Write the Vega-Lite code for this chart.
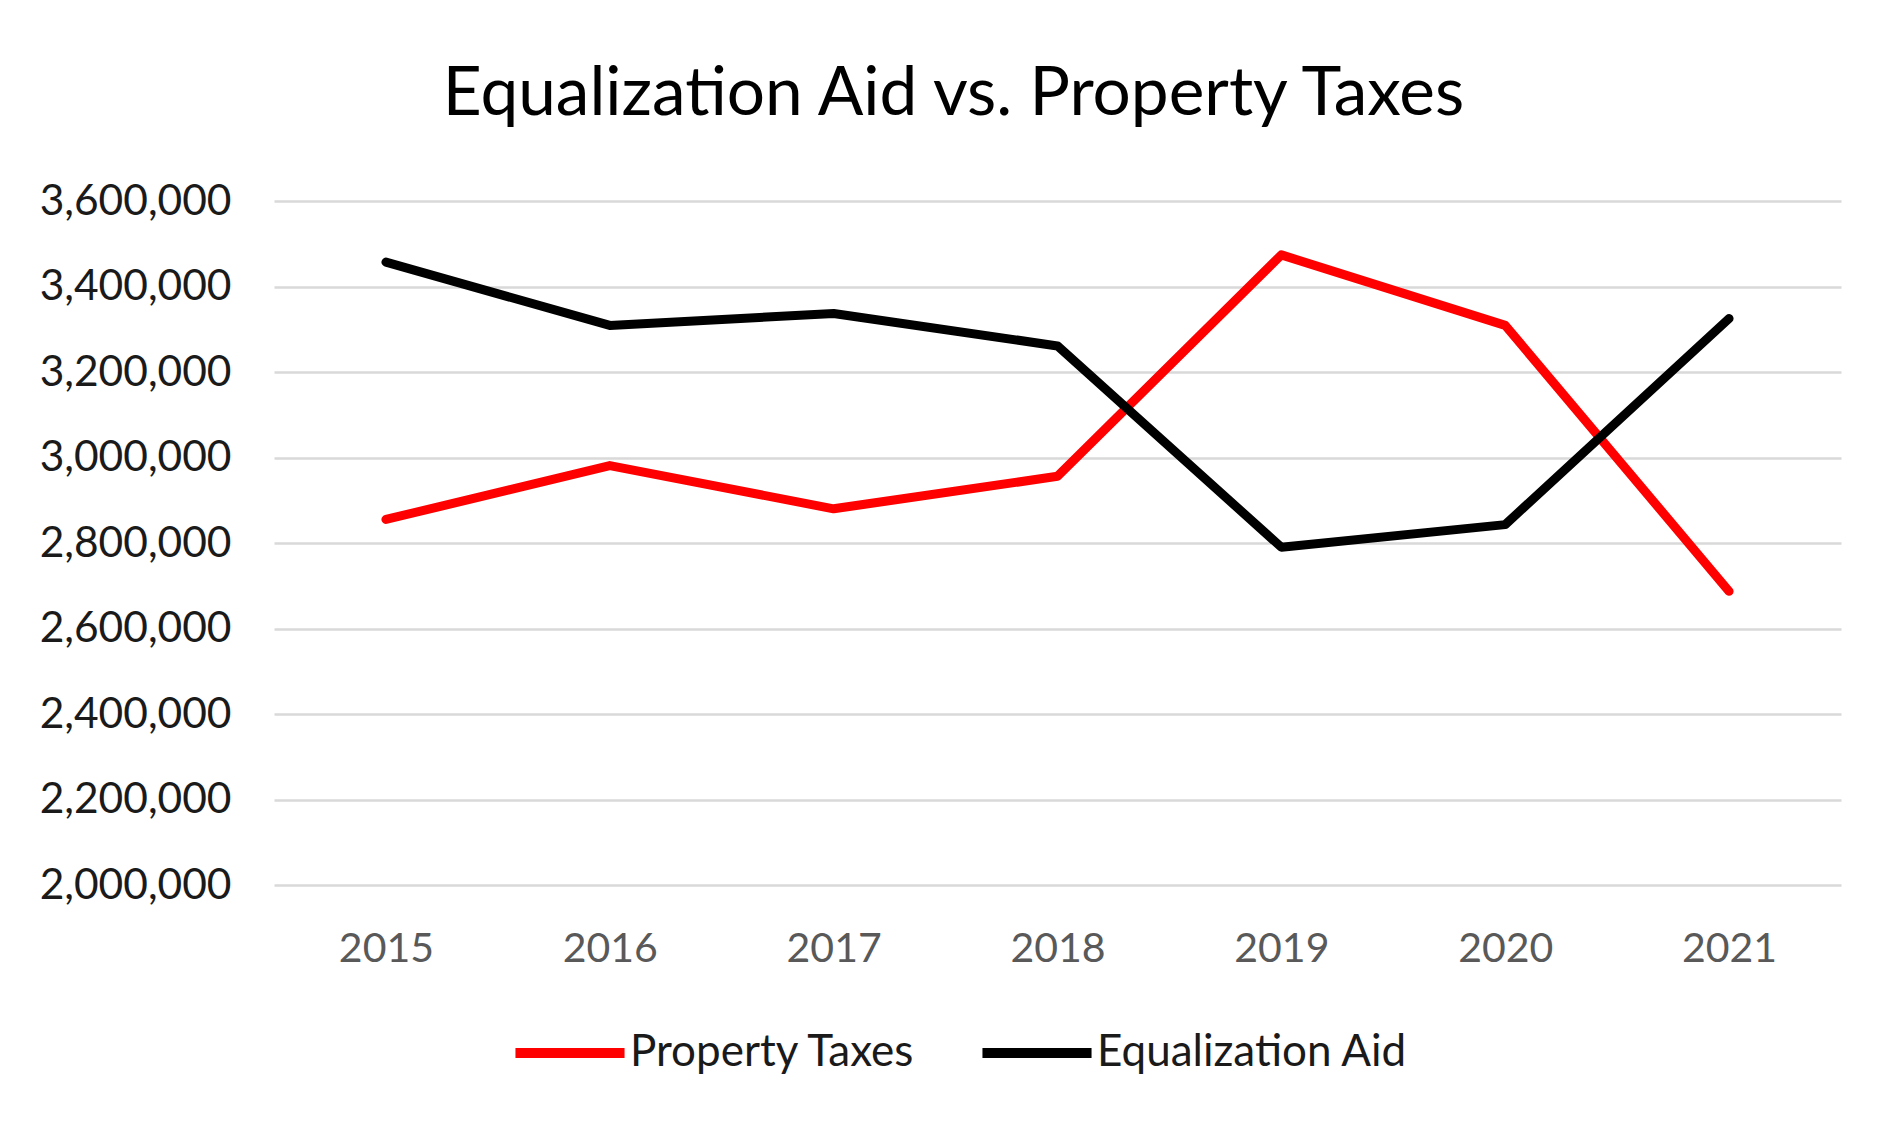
{
  "$schema": "https://vega.github.io/schema/vega-lite/v6.json",
  "autosize": {"type": "none"},
  "width": 1567,
  "height": 684,
  "padding": {"left": 274, "top": 201, "right": 38, "bottom": 236},
  "background": "white",
  "title": {
    "text": "Equalization Aid vs. Property Taxes",
    "font": "Lato",
    "fontSize": 67.5,
    "fontWeight": "normal",
    "color": "#000000",
    "anchor": "middle",
    "baseline": "alphabetic",
    "offset": -2,
    "dx": -104
  },
  "data": {
    "values": [
      {"year": "2015", "series": "Property Taxes", "value": 2855000},
      {"year": "2016", "series": "Property Taxes", "value": 2981000},
      {"year": "2017", "series": "Property Taxes", "value": 2880000},
      {"year": "2018", "series": "Property Taxes", "value": 2956000},
      {"year": "2019", "series": "Property Taxes", "value": 3474000},
      {"year": "2020", "series": "Property Taxes", "value": 3309000},
      {"year": "2021", "series": "Property Taxes", "value": 2687000},
      {"year": "2015", "series": "Equalization Aid", "value": 3457000},
      {"year": "2016", "series": "Equalization Aid", "value": 3309000},
      {"year": "2017", "series": "Equalization Aid", "value": 3337000},
      {"year": "2018", "series": "Equalization Aid", "value": 3261000},
      {"year": "2019", "series": "Equalization Aid", "value": 2790000},
      {"year": "2020", "series": "Equalization Aid", "value": 2843000},
      {"year": "2021", "series": "Equalization Aid", "value": 3325000}
    ]
  },
  "mark": {"type": "line", "strokeWidth": 9, "strokeCap": "round", "strokeJoin": "round"},
  "encoding": {
    "x": {
      "field": "year",
      "type": "ordinal",
      "scale": {"type": "point", "padding": 0.5},
      "axis": {
        "title": null,
        "labelAngle": 0,
        "domain": false,
        "ticks": false,
        "tickSize": 0,
        "grid": false,
        "labelFont": "Lato",
        "labelFontSize": 41,
        "labelColor": "#595959",
        "labelPadding": 44
      }
    },
    "y": {
      "field": "value",
      "type": "quantitative",
      "scale": {"domain": [2000000, 3600000], "nice": false, "zero": false},
      "axis": {
        "title": null,
        "values": [2000000, 2200000, 2400000, 2600000, 2800000, 3000000, 3200000, 3400000, 3600000],
        "format": ",d",
        "domain": false,
        "ticks": false,
        "tickSize": 0,
        "grid": true,
        "gridColor": "#d9d9d9",
        "gridWidth": 2.5,
        "labelFont": "Lato",
        "labelFontSize": 42.5,
        "labelColor": "#1a1a1a",
        "labelPadding": 43,
        "labelLimit": 500
      }
    },
    "color": {
      "field": "series",
      "type": "nominal",
      "scale": {"domain": ["Property Taxes", "Equalization Aid"], "range": ["#ff0000", "#000000"]},
      "legend": {
        "title": null,
        "orient": "none",
        "direction": "horizontal",
        "legendX": 236,
        "legendY": 792,
        "padding": 0,
        "symbolType": "stroke",
        "symbolSize": 11900,
        "symbolStrokeWidth": 10,
        "labelFont": "Lato",
        "labelFontSize": 44,
        "labelColor": "#1a1a1a",
        "labelOffset": 0,
        "columnPadding": 46,
        "labelLimit": 1000
      }
    }
  },
  "config": {"view": {"stroke": null}}
}
